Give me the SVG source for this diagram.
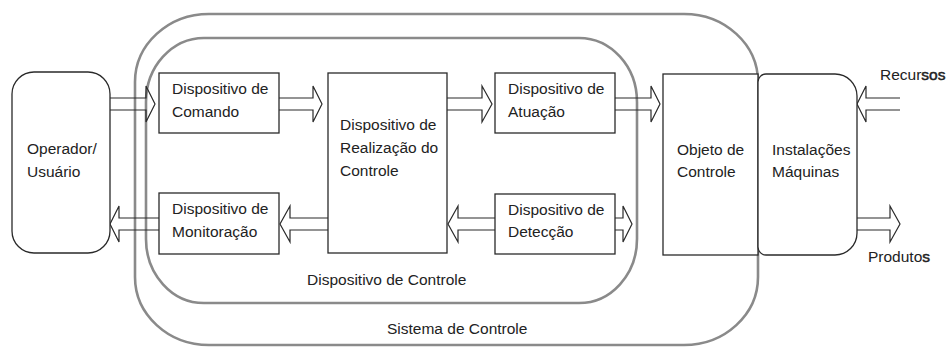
<svg xmlns="http://www.w3.org/2000/svg" width="946" height="349" viewBox="0 0 946 349">
  <style>
    .box { fill: #fff; stroke: #2a2a2a; stroke-width: 1.3; }
    .zone { fill: none; stroke: #8a8a8a; stroke-width: 2.6; }
    .arrow { fill: none; stroke: #2a2a2a; stroke-width: 1.2; stroke-linejoin: miter; }
    text { font-family: "Liberation Sans", Arial, sans-serif; font-size: 15.5px; fill: #222; }
  </style>
  <rect width="946" height="349" fill="#fff"/>

  <!-- system boundaries -->
  <g id="sistema-de-controle">
    <rect class="zone" x="135" y="14" width="623" height="331" rx="74" ry="68"/>
    <text x="387" y="334">Sistema de Controle</text>
  </g>
  <g id="dispositivo-de-controle">
    <rect class="zone" x="146" y="38" width="491" height="265" rx="58" ry="64"/>
    <text x="307" y="285">Dispositivo de Controle</text>
  </g>

  <!-- connectors: hollow block arrows -->
  <g id="connectors">
    <!-- operador -> comando -->
    <path class="arrow" d="M110 98 H146 V86 L155 104 L146 122 V110 H110"/>
    <!-- comando -> realizacao -->
    <path class="arrow" d="M279 98 H313 V86 L322 104 L313 122 V110 H279"/>
    <!-- realizacao -> atuacao -->
    <path class="arrow" d="M447 98 H482 V86 L492 104 L482 122 V110 H447"/>
    <!-- atuacao -> objeto -->
    <path class="arrow" d="M615 98 H651 V86 L660 104 L651 122 V110 H615"/>
    <!-- monitoracao -> operador -->
    <path class="arrow" d="M159 218 H119 V206 L110 224 L119 242 V230 H159"/>
    <!-- realizacao -> monitoracao -->
    <path class="arrow" d="M328 218 H290 V206 L280 224 L290 242 V230 H328"/>
    <!-- deteccao -> realizacao -->
    <path class="arrow" d="M495 218 H458 V206 L448 224 L458 242 V230 H495"/>
    <!-- deteccao -> saida -->
    <path class="arrow" d="M615 218 H623 V206 L632 224 L623 242 V230 H615"/>
    <!-- recursos -> instalacoes -->
    <path class="arrow" d="M900 98 H866 V86 L857 104 L866 122 V110 H900"/>
    <!-- instalacoes -> produtos -->
    <path class="arrow" d="M857 218 H890 V206 L900 224 L890 242 V230 H857"/>
  </g>

  <g id="operador">
    <rect class="box" x="12" y="72" width="98" height="181" rx="22" ry="22"/>
    <text x="27" y="154">Operador/</text>
    <text x="27" y="177">Usuário</text>
  </g>

  <g id="comando">
    <rect class="box" x="159" y="73" width="120" height="60"/>
    <text x="172" y="94">Dispositivo de</text>
    <text x="172" y="116.5">Comando</text>
  </g>

  <g id="monitoracao">
    <rect class="box" x="159" y="193" width="120" height="61"/>
    <text x="172" y="214">Dispositivo de</text>
    <text x="172" y="236.5">Monitoração</text>
  </g>

  <g id="realizacao">
    <rect class="box" x="328" y="73" width="119" height="180"/>
    <text x="340" y="130">Dispositivo de</text>
    <text x="340" y="153">Realização do</text>
    <text x="340" y="176">Controle</text>
  </g>

  <g id="atuacao">
    <rect class="box" x="495" y="73" width="120" height="60"/>
    <text x="508" y="94">Dispositivo de</text>
    <text x="508" y="116.5">Atuação</text>
  </g>

  <g id="deteccao">
    <rect class="box" x="495" y="194" width="120" height="60"/>
    <text x="508" y="215">Dispositivo de</text>
    <text x="508" y="237">Detecção</text>
  </g>

  <g id="objeto">
    <rect class="box" x="663" y="74" width="95" height="181"/>
    <text x="677" y="155">Objeto de</text>
    <text x="677" y="177">Controle</text>
  </g>

  <g id="instalacoes">
    <path class="box" d="M766 74 H835 A22 22 0 0 1 857 96 V233 A22 22 0 0 1 835 255 H766 A8 8 0 0 1 758 247 V82 A8 8 0 0 1 766 74 Z"/>
    <text x="772" y="155">Instalações</text>
    <text x="772" y="177">Máquinas</text>
  </g>

  <g id="labels">
    <text x="880" y="80">Recur<tspan stroke="#222" stroke-width="0.5">sos</tspan></text>
    <text x="868" y="262">Produto<tspan stroke="#222" stroke-width="0.5">s</tspan></text>
  </g>
</svg>
